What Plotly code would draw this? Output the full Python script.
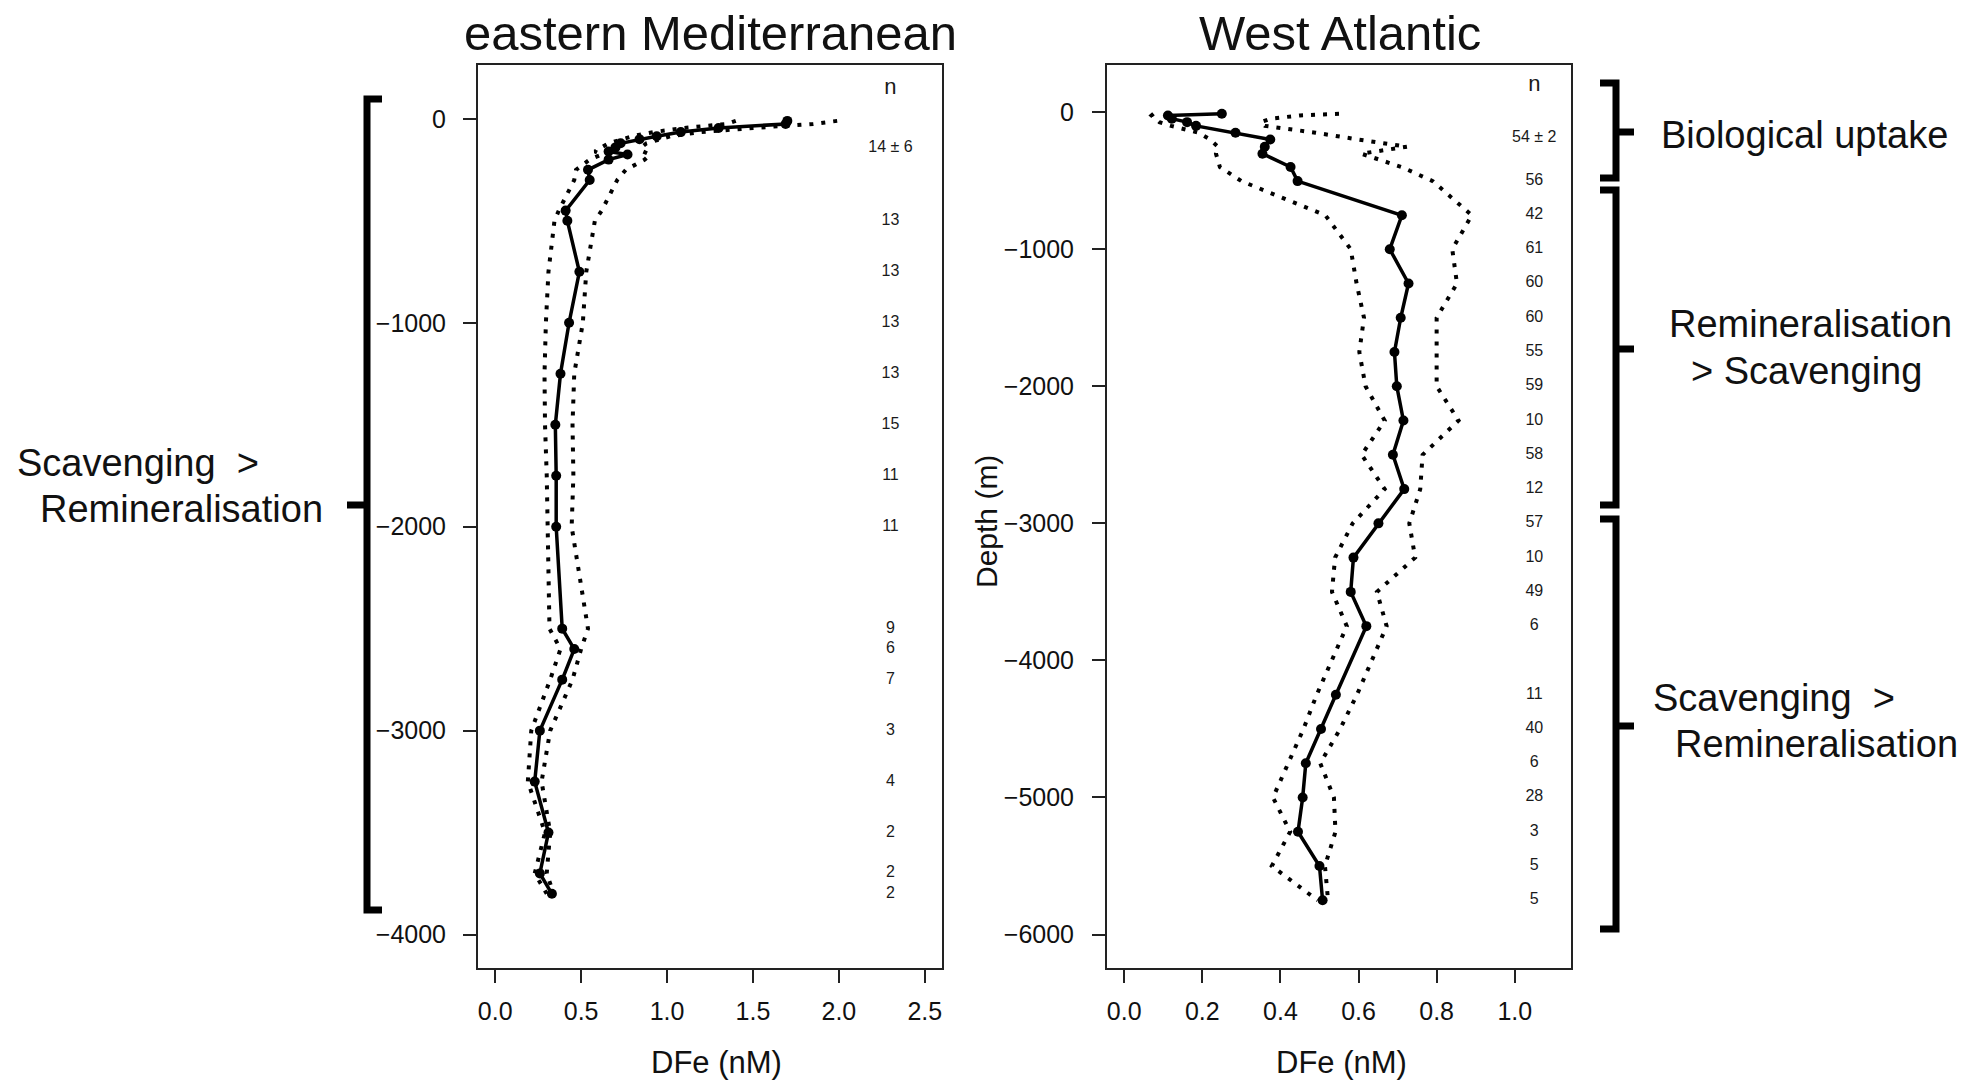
import plotly.graph_objects as go

# ---------------- data ----------------
# eastern Mediterranean
med_depth = [-10, -25, -45, -65, -85, -100, -120, -140, -160, -175, -200, -250, -300,
             -450, -500, -750, -1000, -1250, -1500, -1750, -2000, -2500, -2600, -2750,
             -3000, -3250, -3500, -3700, -3800]
med_mean = [1.70, 1.69, 1.30, 1.08, 0.94, 0.84, 0.73, 0.70, 0.66, 0.77, 0.66, 0.54, 0.55,
            0.41, 0.42, 0.49, 0.43, 0.38, 0.35, 0.355, 0.355, 0.39, 0.46, 0.39,
            0.26, 0.23, 0.31, 0.26, 0.33]
med_upper = [1.99, 1.85, 1.50, 1.20, 1.02, 0.95, 0.88, 0.85, 0.86, 0.90, 0.87, 0.76, 0.71,
             0.62, 0.58, 0.53, 0.51, 0.46, 0.45, 0.455, 0.445, 0.54, 0.50, 0.45,
             0.32, 0.27, 0.32, 0.30, 0.34]
med_lower = [1.40, 1.35, 1.10, 0.92, 0.80, 0.73, 0.66, 0.62, 0.58, 0.62, 0.55, 0.47, 0.46,
             0.37, 0.345, 0.31, 0.295, 0.287, 0.29, 0.30, 0.306, 0.316, 0.38, 0.32,
             0.21, 0.19, 0.29, 0.23, 0.30]
med_n_depth = [150, -142, -500, -750, -1000, -1250, -1500, -1750, -2000, -2500, -2600,
               -2750, -3000, -3250, -3500, -3700, -3800]
med_n_text = ["n", "14 ± 6", "13", "13", "13", "13", "15", "11", "11", "9", "6",
              "7", "3", "4", "2", "2", "2"]

# West Atlantic
atl_depth = [-12, -24, -48, -73, -100, -150, -200, -252, -303, -400, -503, -752, -1000,
             -1250, -1500, -1750, -2000, -2250, -2500, -2750, -3000, -3250, -3500, -3750,
             -4250, -4500, -4750, -5000, -5250, -5500, -5750]
atl_mean = [0.250, 0.112, 0.122, 0.161, 0.184, 0.285, 0.374, 0.360, 0.354, 0.426, 0.444,
            0.711, 0.680, 0.728, 0.708, 0.692, 0.698, 0.715, 0.688, 0.717, 0.651, 0.587,
            0.580, 0.620, 0.542, 0.504, 0.465, 0.457, 0.445, 0.500, 0.508]
atl_upper = [0.55, 0.45, 0.375, 0.35, 0.36, 0.49, 0.60, 0.724, 0.607, 0.71, 0.79, 0.89,
             0.84, 0.852, 0.80, 0.80, 0.80, 0.856, 0.764, 0.758, 0.730, 0.745, 0.647,
             0.672, 0.596, 0.553, 0.502, 0.537, 0.541, 0.514, 0.522]
atl_lower = [0.075, 0.07, 0.08, 0.09, 0.12, 0.19, 0.22, 0.24, 0.235, 0.245, 0.30, 0.515,
             0.58, 0.595, 0.614, 0.602, 0.618, 0.667, 0.608, 0.667, 0.585, 0.540, 0.532,
             0.570, 0.493, 0.459, 0.420, 0.381, 0.425, 0.378, 0.495]
atl_n_depth = [194, -187, -500, -750, -1000, -1250, -1500, -1750, -2000, -2250, -2500,
               -2750, -3000, -3250, -3500, -3750, -4250, -4500, -4750, -5000, -5250,
               -5500, -5750]
atl_n_text = ["n", "54 ± 2", "56", "42", "61", "60", "60", "55", "59", "10", "58", "12",
              "57", "10", "49", "6", "11", "40", "6", "28", "3", "5", "5"]

med_xticks = [0.0, 0.5, 1.0, 1.5, 2.0, 2.5]
atl_xticks = [0.0, 0.2, 0.4, 0.6, 0.8, 1.0]
med_yticks = [0, -1000, -2000, -3000, -4000]
atl_yticks = [0, -1000, -2000, -3000, -4000, -5000, -6000]

# ---------------- figure ----------------
W, H = 1977, 1080
FONT = "Liberation Sans, Arial, Helvetica, sans-serif"


def px(x):
    return x / W


def py(y):
    return 1 - y / H


fig = go.Figure()

dot_style = dict(color="black", width=4, dash="4px,8px")
solid_style = dict(color="black", width=3.5)

for xs, ys, xa, ya in [(med_lower, med_depth, "x", "y"), (med_upper, med_depth, "x", "y"),
                       (atl_lower, atl_depth, "x2", "y2"), (atl_upper, atl_depth, "x2", "y2")]:
    fig.add_trace(go.Scatter(x=xs, y=ys, mode="lines", line=dot_style,
                             xaxis=xa, yaxis=ya, showlegend=False, hoverinfo="skip"))

fig.add_trace(go.Scatter(x=med_mean, y=med_depth, mode="lines+markers", line=solid_style,
                         marker=dict(color="black", size=10), xaxis="x", yaxis="y",
                         showlegend=False))
fig.add_trace(go.Scatter(x=atl_mean, y=atl_depth, mode="lines+markers", line=solid_style,
                         marker=dict(color="black", size=10), xaxis="x2", yaxis="y2",
                         showlegend=False))

fig.add_trace(go.Scatter(x=[2.30] * len(med_n_depth), y=med_n_depth, mode="text",
                         text=med_n_text, textposition="middle center",
                         textfont=dict(family=FONT, size=[22] + [16] * (len(med_n_text) - 1),
                                       color="#1a1a1a"),
                         xaxis="x", yaxis="y", showlegend=False, cliponaxis=False))
fig.add_trace(go.Scatter(x=[1.05] * len(atl_n_depth), y=atl_n_depth, mode="text",
                         text=atl_n_text, textposition="middle center",
                         textfont=dict(family=FONT, size=[22] + [16] * (len(atl_n_text) - 1),
                                       color="#1a1a1a"),
                         xaxis="x2", yaxis="y2", showlegend=False, cliponaxis=False))

ydom = [py(968), py(65)]
axis_common = dict(showline=True, mirror=True, linecolor="#222", linewidth=2,
                   ticks="outside", ticklen=13, tickwidth=2, tickcolor="#222",
                   showgrid=False, zeroline=False, automargin=False,
                   tickfont=dict(family=FONT, size=25, color="#111"))

fig.update_layout(
    width=W, height=H,
    margin=dict(l=0, r=0, t=0, b=0),
    paper_bgcolor="white", plot_bgcolor="white",
    font=dict(family=FONT, color="#111"),
    xaxis=dict(domain=[px(478), px(942)], range=[-0.1, 2.6], anchor="y",
               tickvals=med_xticks, ticktext=[f"{v:.1f}" for v in med_xticks],
               ticklabelstandoff=7, **axis_common),
    yaxis=dict(domain=ydom, range=[-4164, 264], anchor="x",
               tickvals=med_yticks, ticklabelstandoff=12, **axis_common),
    xaxis2=dict(domain=[px(1107), px(1571)], range=[-0.044, 1.144], anchor="y2",
                tickvals=atl_xticks, ticktext=[f"{v:.1f}" for v in atl_xticks],
                ticklabelstandoff=7, **axis_common),
    yaxis2=dict(domain=ydom, range=[-6244, 344], anchor="x2",
                tickvals=atl_yticks, ticklabelstandoff=13, **axis_common),
)

ann = []
# titles
ann.append(dict(text="eastern Mediterranean", x=px(710), y=py(33), font=dict(size=49)))
ann.append(dict(text="West Atlantic", x=px(1340), y=py(33), font=dict(size=49)))
# axis titles
ann.append(dict(text="DFe (nM)", x=px(716), y=py(1062), font=dict(size=31)))
ann.append(dict(text="DFe (nM)", x=px(1341), y=py(1062), font=dict(size=31)))
ann.append(dict(text="Depth (m)", x=px(986), y=py(522), textangle=-90, font=dict(size=30)))
# process labels
left_txt = [("Scavenging\u00a0\u00a0>", 15, 463), ("Remineralisation", 38, 509),
            ("Biological uptake", 1659, 135),
            ("Remineralisation", 1667, 324), ("> Scavenging", 1689, 371),
            ("Scavenging\u00a0\u00a0>", 1651, 698), ("Remineralisation", 1673, 744)]
for t, x, y in left_txt:
    ann.append(dict(text=t, x=px(x), y=py(y), xanchor="left", font=dict(size=38)))

for a in ann:
    a.setdefault("xanchor", "center")
    a.update(xref="paper", yref="paper", yanchor="middle", showarrow=False)
    a["font"].update(family=FONT, color="#111")
fig.update_layout(annotations=ann)


def bracket(xv, xs, top, bot, mid, xm):
    p = (f"M {px(xs)},{py(top)} L {px(xv)},{py(top)} L {px(xv)},{py(bot)} "
         f"L {px(xs)},{py(bot)} M {px(xv)},{py(mid)} L {px(xm)},{py(mid)}")
    return dict(type="path", path=p, xref="paper", yref="paper",
                line=dict(color="black", width=7))


shapes = [bracket(367, 382, 99, 910, 505, 347),
          bracket(1616, 1600, 83, 178, 132, 1634),
          bracket(1616, 1600, 190, 505, 349, 1634),
          bracket(1616, 1600, 519, 929, 726, 1634)]
fig.update_layout(shapes=shapes)

fig.write_html("out.html")
